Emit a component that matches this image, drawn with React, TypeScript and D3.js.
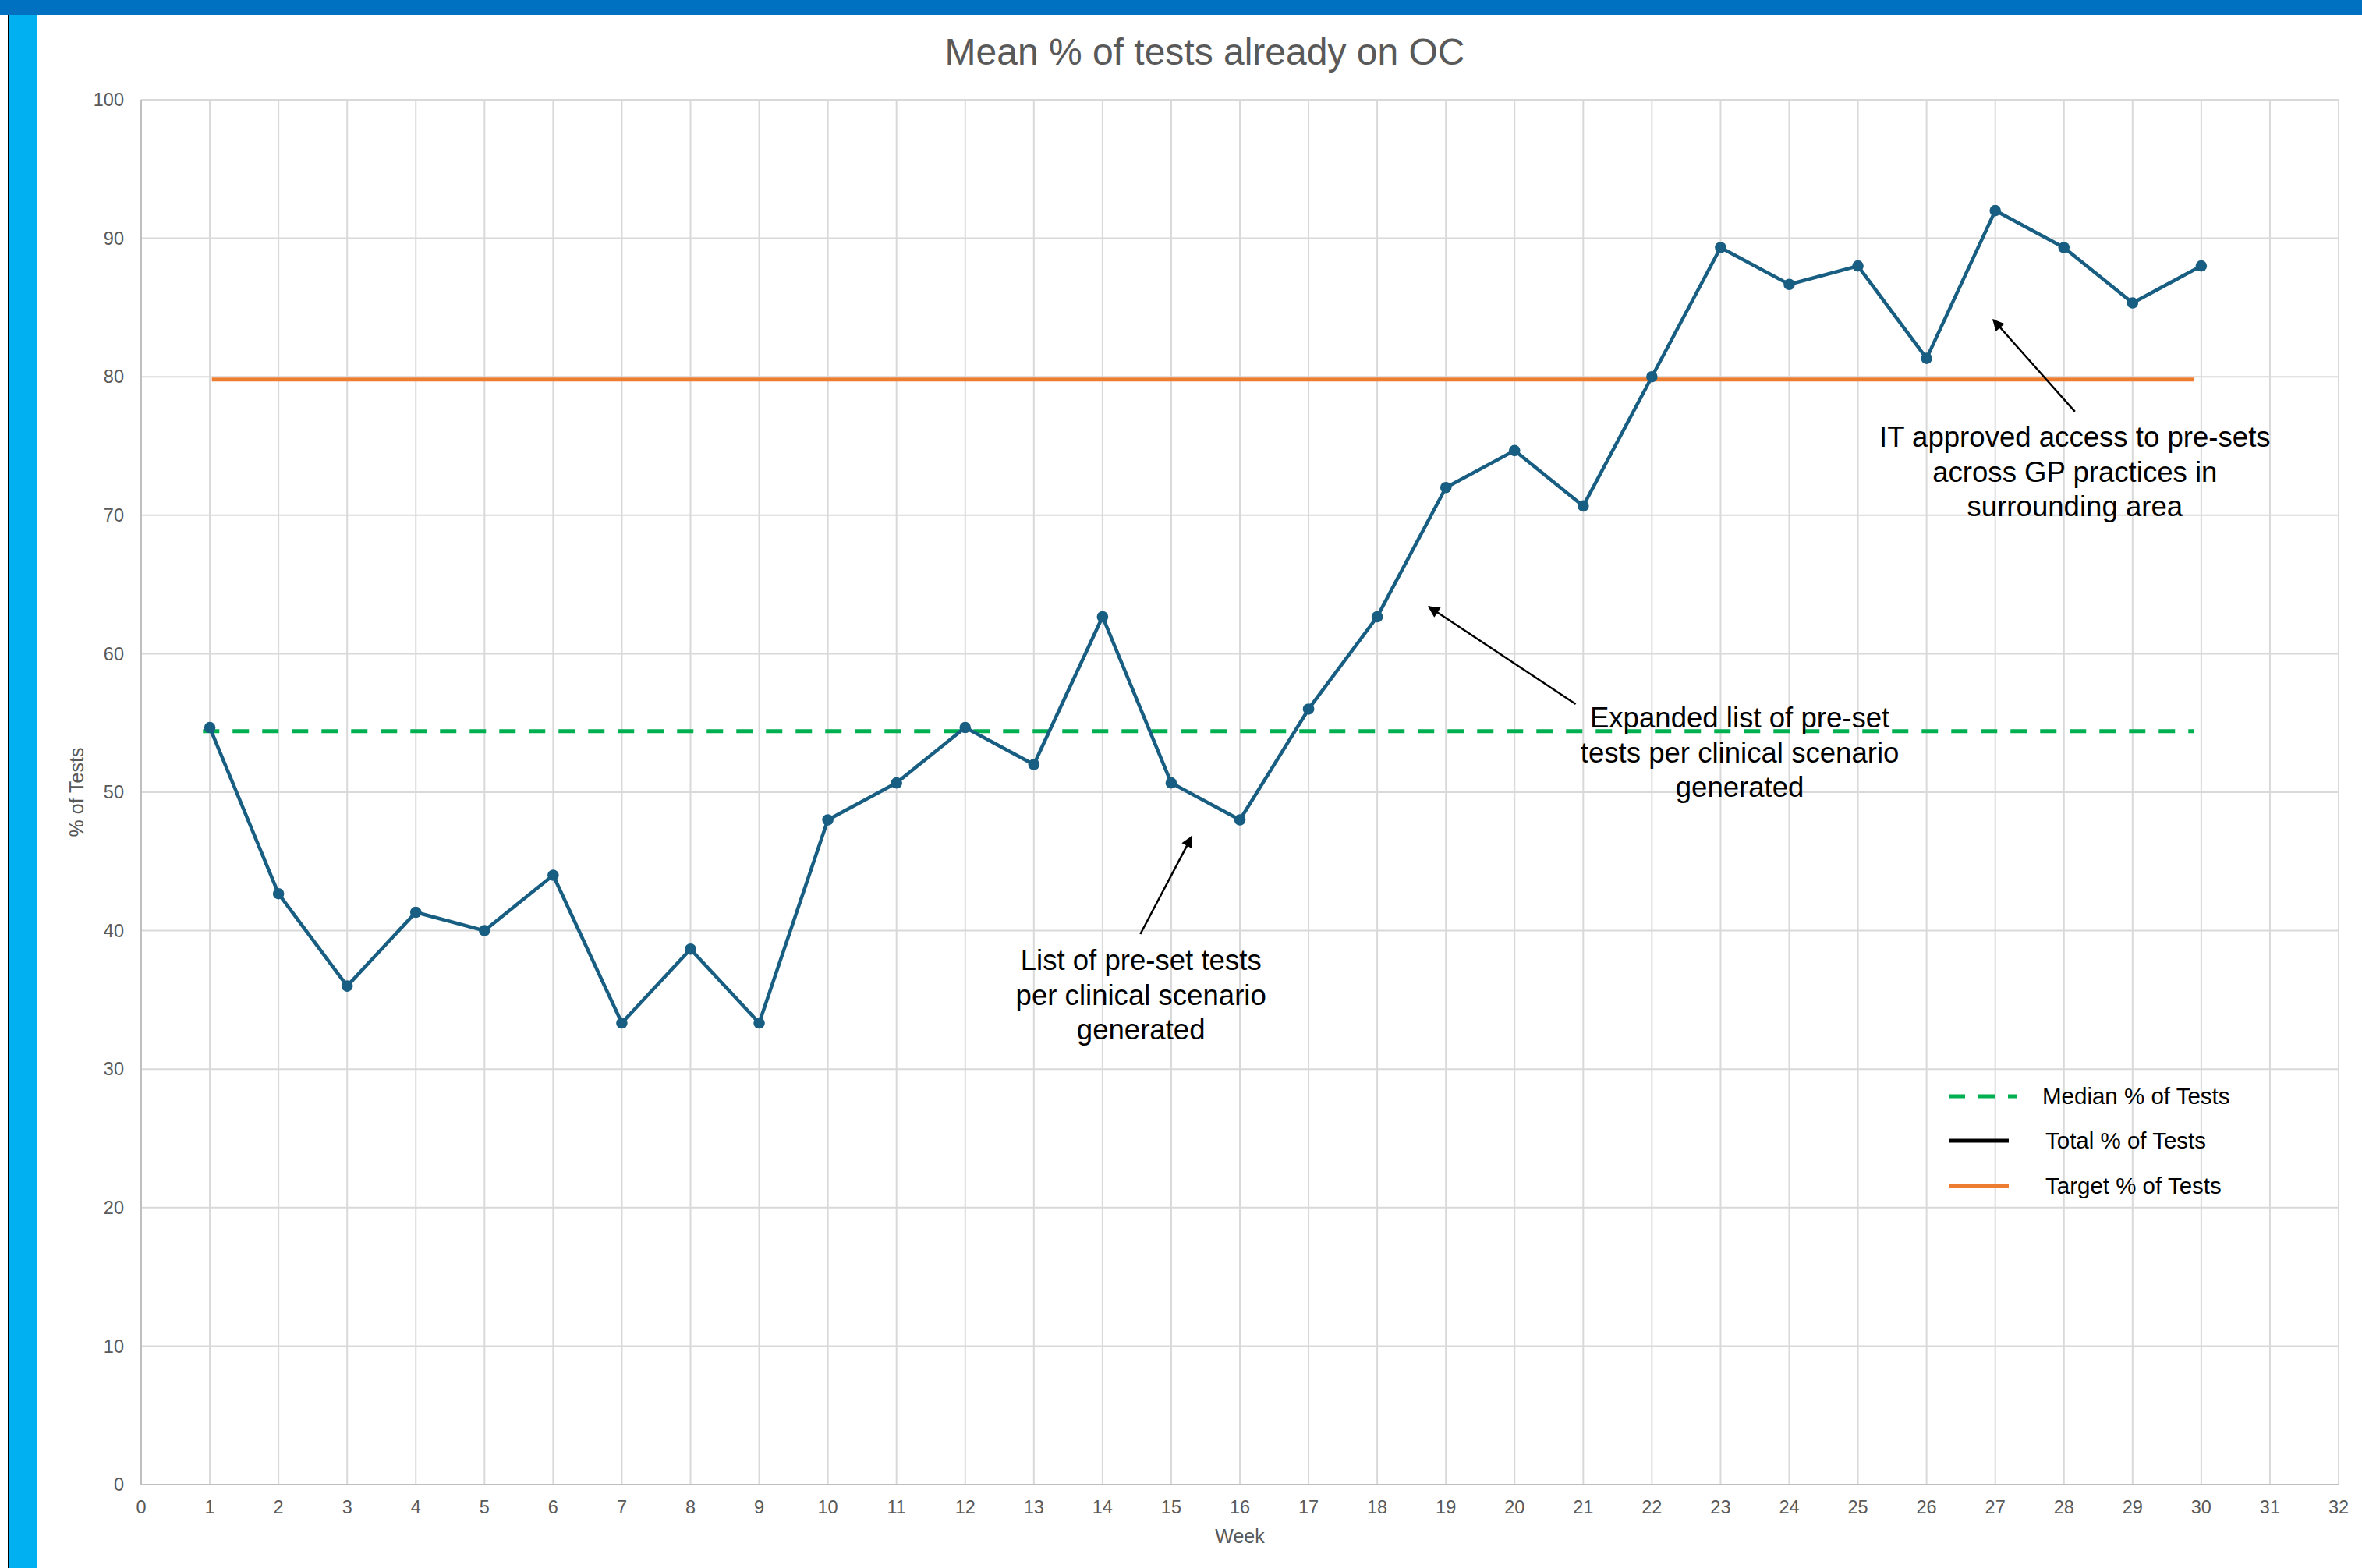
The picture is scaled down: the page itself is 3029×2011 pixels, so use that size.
import React from "react";
import * as d3 from "d3";

// ---------- data ----------
const weeks = [1,2,3,4,5,6,7,8,9,10,11,12,13,14,15,16,17,18,19,20,21,22,23,24,25,26,27,28,29,30];
const meanPct = [54.67,42.67,36,41.33,40,44,33.33,38.67,33.33,48,50.67,54.67,52,62.67,50.67,48,56,62.67,72,74.67,70.67,80,89.33,86.67,88,81.33,92,89.33,85.33,88];
const medianValue = 54.4;
const medianSpan = [0.9, 29.9];
const targetValue = 79.8;
const targetSpan = [1.03, 29.9];
const xTicks = d3.range(0, 33);
const yTicks = [0,10,20,30,40,50,60,70,80,90,100];
const titleText = "Mean % of tests already on OC";
const xLabel = "Week";
const yLabel = "% of Tests";
const legendLabels = ["Median % of Tests", "Total % of Tests", "Target % of Tests"];
const annotationLines = [
  ["List of pre-set tests", "per clinical scenario", "generated"],
  ["Expanded list of pre-set", "tests per clinical scenario", "generated"],
  ["IT approved access to pre-sets", "across GP practices in", "surrounding area"],
];
// anchors in data coords: text center x, first baseline y, arrow tail, arrow tip
const annotationAnchors = [
  { tx: 14.56, ty: 37.16, ax1: 14.55, ay1: 39.75, ax2: 15.3, ay2: 46.8 },
  { tx: 23.28, ty: 54.67, ax1: 20.89, ay1: 56.36, ax2: 18.75, ay2: 63.4 },
  { tx: 28.16, ty: 74.94, ax1: 28.16, ay1: 77.48, ax2: 26.97, ay2: 84.12 },
];

// ---------- layout ----------
const W = 3029, H = 2011;
const plot = { left: 181, right: 2999, top: 128, bottom: 1904 };
const FONT = "'Liberation Sans', Arial, sans-serif";
const GREY_TEXT = "#595959";
const GRID = "#D9D9D9";
const AXIS = "#BFBFBF";
const SERIES = "#185E82";
const MEDIAN = "#00B050";
const TARGET = "#ED7D31";

export default function App() {
  const x = d3.scaleLinear().domain([0, 32]).range([plot.left, plot.right]);
  const y = d3.scaleLinear().domain([0, 100]).range([plot.bottom, plot.top]);
  const pts = weeks.map((w, i) => [w, meanPct[i]] as [number, number]);
  const line = d3.line<[number, number]>().x(d => x(d[0])).y(d => y(d[1]));

  const lgX1 = 2499, lgX2 = 2576;
  const legendY = [1406, 1463, 1521];
  const legendTextX = [2619, 2623, 2623];

  return (
    <div style={{ position: "absolute", left: 0, top: 0, width: W, height: H, background: "#fff" }}>
      <svg width={W} height={H} style={{ display: "block" }} fontFamily={FONT}>
        <defs>
          <marker id="arrow" viewBox="0 0 10 10" refX="9" refY="5" markerWidth="6.5" markerHeight="6" markerUnits="strokeWidth" orient="auto">
            <path d="M0,0 L10,5 L0,10 z" fill="#000" />
          </marker>
        </defs>
        <rect x={0} y={0} width={W} height={H} fill="#fff" />
        {/* frame decoration */}
        <rect x={0} y={0} width={W} height={19} fill="#0070C0" />
        <rect x={10} y={19} width={2} height={H - 19} fill="#000" />
        <rect x={12} y={19} width={36} height={H - 19} fill="#00B0F0" />

        {/* title */}
        <text x={1545} y={83} textAnchor="middle" fontSize={48} fill={GREY_TEXT}>{titleText}</text>

        {/* grid */}
        {xTicks.map(t => (
          <line key={"gx" + t} x1={x(t)} x2={x(t)} y1={plot.top} y2={plot.bottom} stroke={GRID} strokeWidth={2} />
        ))}
        {yTicks.map(t => (
          <line key={"gy" + t} x1={plot.left} x2={plot.right} y1={y(t)} y2={y(t)} stroke={GRID} strokeWidth={2} />
        ))}
        <line x1={plot.left} x2={plot.left} y1={plot.top} y2={plot.bottom} stroke={AXIS} strokeWidth={2} />
        <line x1={plot.left} x2={plot.right} y1={plot.bottom} y2={plot.bottom} stroke={AXIS} strokeWidth={2} />

        {/* tick labels */}
        {yTicks.map(t => (
          <text key={"yl" + t} x={159} y={y(t)} dy="0.35em" textAnchor="end" fontSize={23.5} fill={GREY_TEXT}>{t}</text>
        ))}
        {xTicks.map(t => (
          <text key={"xl" + t} x={x(t)} y={1933} dy="0.35em" textAnchor="middle" fontSize={23.5} fill={GREY_TEXT}>{t}</text>
        ))}
        <text x={(plot.left + plot.right) / 2} y={1970} dy="0.35em" textAnchor="middle" fontSize={25} fill={GREY_TEXT}>{xLabel}</text>
        <text transform={`translate(98,${(plot.top + plot.bottom) / 2}) rotate(-90)`} dy="0.35em" textAnchor="middle" fontSize={25} fill={GREY_TEXT}>{yLabel}</text>

        {/* target & median */}
        <line x1={x(targetSpan[0])} x2={x(targetSpan[1])} y1={y(targetValue)} y2={y(targetValue)} stroke={TARGET} strokeWidth={5} />
        <line x1={x(medianSpan[0])} x2={x(medianSpan[1])} y1={y(medianValue)} y2={y(medianValue)} stroke={MEDIAN} strokeWidth={5} strokeDasharray="21 17" />

        {/* series */}
        <path d={line(pts) || ""} fill="none" stroke={SERIES} strokeWidth={4.5} strokeLinejoin="round" />
        {pts.map((p, i) => (
          <circle key={"pt" + i} cx={x(p[0])} cy={y(p[1])} r={7.3} fill={SERIES} />
        ))}

        {/* annotations */}
        {annotationAnchors.map((a, i) => (
          <g key={"an" + i}>
            <line x1={x(a.ax1)} y1={y(a.ay1)} x2={x(a.ax2)} y2={y(a.ay2)} stroke="#000" strokeWidth={2.5} markerEnd="url(#arrow)" />
            {annotationLines[i].map((s, j) => (
              <text key={j} x={x(a.tx)} y={y(a.ty) + j * 44.5} textAnchor="middle" fontSize={36.6} fill="#000">{s}</text>
            ))}
          </g>
        ))}

        {/* legend */}
        <line x1={lgX1} x2={2586} y1={legendY[0]} y2={legendY[0]} stroke={MEDIAN} strokeWidth={5} strokeDasharray="21 17" />
        <line x1={lgX1} x2={lgX2} y1={legendY[1]} y2={legendY[1]} stroke="#000" strokeWidth={5} />
        <line x1={lgX1} x2={lgX2} y1={legendY[2]} y2={legendY[2]} stroke={TARGET} strokeWidth={5} />
        {legendLabels.map((l, i) => (
          <text key={"lg" + i} x={legendTextX[i]} y={legendY[i]} dy="0.35em" fontSize={29.5} fill="#000">{l}</text>
        ))}
      </svg>
    </div>
  );
}
